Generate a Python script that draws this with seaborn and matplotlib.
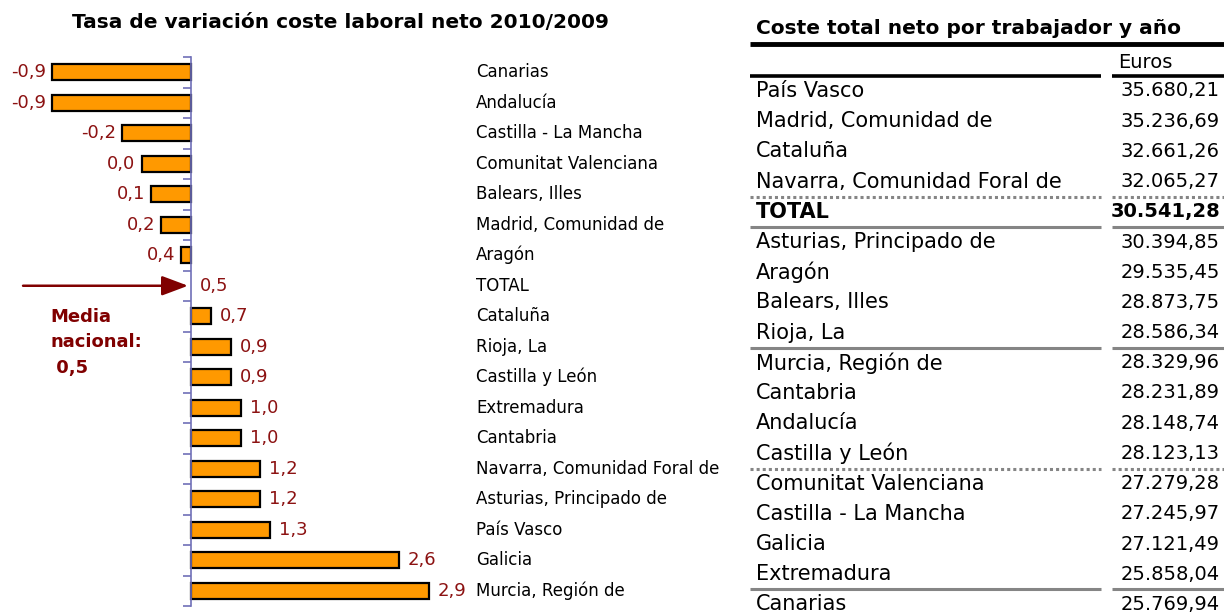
import numpy as np
import pandas as pd
import seaborn as sns
import matplotlib.pyplot as plt

# datos del grafico: tasa de variacion 2010/2009 (%)
regiones = ["Canarias", "Andalucía", "Castilla - La Mancha", "Comunitat Valenciana",
            "Balears, Illes", "Madrid, Comunidad de", "Aragón", "TOTAL", "Cataluña",
            "Rioja, La", "Castilla y León", "Extremadura", "Cantabria",
            "Navarra, Comunidad Foral de", "Asturias, Principado de", "País Vasco",
            "Galicia", "Murcia, Región de"]
tasa = [-0.9, -0.9, -0.2, 0.0, 0.1, 0.2, 0.4, 0.5, 0.7, 0.9, 0.9, 1.0, 1.0, 1.2, 1.2, 1.3, 2.6, 2.9]
media_nacional = 0.5

# datos de la tabla: coste total neto por trabajador y año (euros)
tabla_regiones = ["País Vasco", "Madrid, Comunidad de", "Cataluña", "Navarra, Comunidad Foral de",
                  "TOTAL", "Asturias, Principado de", "Aragón", "Balears, Illes", "Rioja, La",
                  "Murcia, Región de", "Cantabria", "Andalucía", "Castilla y León",
                  "Comunitat Valenciana", "Castilla - La Mancha", "Galicia", "Extremadura",
                  "Canarias"]
tabla_euros = [35680.21, 35236.69, 32661.26, 32065.27, 30541.28, 30394.85, 29535.45, 28873.75,
               28586.34, 28329.96, 28231.89, 28148.74, 28123.13, 27279.28, 27245.97, 27121.49,
               25858.04, 25769.94]
# separadores tras estas filas: (fila, estilo)
separadores = [(3, "punteado"), (4, "solido"), (8, "solido"), (12, "punteado"), (16, "solido")]

ROJO = "#8c1212"
NARANJA = "#ff9900"
EJE = "#6f6fb8"


def fmt_tasa(v):
    return f"{v:.1f}".replace(".", ",")


def fmt_euros(v):
    return f"{v:,.2f}".replace(",", "X").replace(".", ",").replace("X", ".")


sns.set_style("white")
plt.rcParams["font.family"] = ["DejaVu Sans"]
plt.rcParams["text.color"] = "black"

W, H = 1224, 616
fig = plt.figure(figsize=(W / 100, H / 100), dpi=100)

# ---------------- grafico de barras ----------------
df = pd.DataFrame({"region": regiones, "tasa": tasa})
df["desv"] = df["tasa"] - media_nacional

px_unidad = 99.0
eje_px = 191
ancho_ax = 470
ax = fig.add_axes([0, 1 - 606 / H, ancho_ax / W, 549 / H])
sns.barplot(data=df, x="desv", y="region", orient="h", color=NARANJA,
            edgecolor="black", linewidth=1.6, width=0.52, saturation=1, ax=ax)
ax.set_xlim(-eje_px / px_unidad, (ancho_ax - eje_px) / px_unidad)
ax.set_ylim(len(df) - 0.5, -0.5)

for p in ax.patches:
    if abs(p.get_width()) < 1e-9:
        p.set_visible(False)

for s in ["top", "right", "bottom"]:
    ax.spines[s].set_visible(False)
ax.spines["left"].set_position(("data", 0))
ax.spines["left"].set_color(EJE)
ax.spines["left"].set_linewidth(1.2)
ax.set_yticks(np.arange(-0.5, len(df), 1.0))
ax.set_yticklabels([])
ax.tick_params(axis="y", direction="out", length=6, color=EJE, width=1.2, left=True)
ax.set_xticks([])
ax.set_xlabel("")
ax.set_ylabel("")

for i, row in df.iterrows():
    if row["desv"] < 0:
        ax.annotate(fmt_tasa(row["tasa"]), xy=(row["desv"], i), xytext=(-6, 0),
                    textcoords="offset pixels", ha="right", va="center",
                    fontsize=13, color=ROJO)
    else:
        ax.annotate(fmt_tasa(row["tasa"]), xy=(row["desv"], i), xytext=(9, 0),
                    textcoords="offset pixels", ha="left", va="center",
                    fontsize=13, color=ROJO)
    ax.text(476 / ancho_ax, i, row["region"], transform=ax.get_yaxis_transform(),
            ha="left", va="center", fontsize=12, color="black")

# flecha de la media nacional
i_total = regiones.index("TOTAL")
ax.annotate("", xy=(-0.03, i_total), xytext=(-165, 0), textcoords="offset pixels",
            arrowprops=dict(arrowstyle="-|>,head_length=1.6,head_width=0.6",
                            color="#800000", lw=1.8, shrinkA=0, shrinkB=0))
ax.text(50 / ancho_ax, i_total + 0.72, "Media\nnacional:\n 0,5", transform=ax.get_yaxis_transform(),
        ha="left", va="top", fontsize=13, fontweight="bold", color="#800000",
        linespacing=1.55)

fig.text(340 / W, 1 - 23 / H, "Tasa de variación coste laboral neto 2010/2009",
         ha="center", va="center", fontsize=14.5, fontweight="bold")

# ---------------- tabla ----------------
ax2 = fig.add_axes([750 / W, 0, 474 / W, 1])
ax2.set_xlim(0, 474)
ax2.set_ylim(H, 0)
ax2.axis("off")

fila0, paso = 91, 30.2
ax2.text(6, 28, "Coste total neto por trabajador y año", ha="left", va="center",
         fontsize=14.5, fontweight="bold")
ax2.plot([0, 474], [44, 44], color="black", lw=3.5, solid_capstyle="butt")
ax2.text(368, 62, "Euros", ha="left", va="center", fontsize=14)
ax2.plot([0, 351], [76, 76], color="black", lw=2.6, solid_capstyle="butt")
ax2.plot([362, 474], [76, 76], color="black", lw=2.6, solid_capstyle="butt")

for i, (reg, val) in enumerate(zip(tabla_regiones, tabla_euros)):
    peso = "bold" if reg == "TOTAL" else "normal"
    y = fila0 + i * paso
    ax2.text(6, y, reg, ha="left", va="center", fontsize=15, fontweight=peso)
    ax2.text(470, y, fmt_euros(val), ha="right", va="center", fontsize=14, fontweight=peso)

for fila, estilo in separadores:
    y = fila0 + (fila + 0.5) * paso
    ls = (0, (1, 1)) if estilo == "punteado" else "-"
    for x0, x1 in [(0, 351), (362, 474)]:
        ax2.plot([x0, x1], [y, y], color="#858585", lw=2.2, linestyle=ls, solid_capstyle="butt")

fig.savefig("out.png", dpi=100)
